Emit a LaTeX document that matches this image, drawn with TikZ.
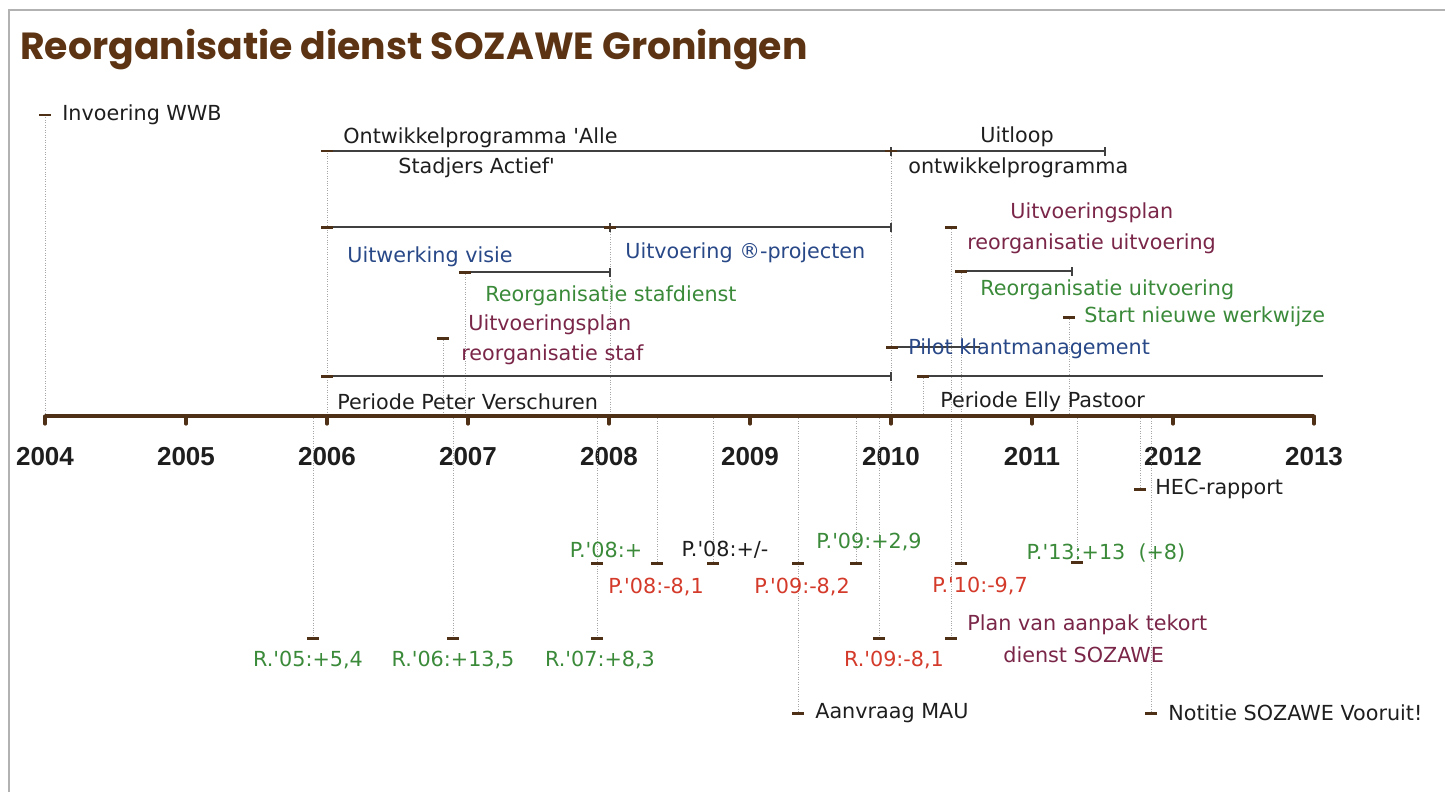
\documentclass[tikz,border=0pt]{standalone}
\usepackage{fontspec}
\setmainfont{DejaVu Sans}
\newfontfamily\yearfont{Liberation Sans}
\newfontfamily\titlefont{Poppins}
\usetikzlibrary{positioning}

\definecolor{axisbrown}{RGB}{78,48,22}
\definecolor{titlebrown}{RGB}{92,52,20}
\definecolor{txtblue}{RGB}{40,72,135}
\definecolor{txtgreen}{RGB}{58,138,58}
\definecolor{txtmaroon}{RGB}{122,38,72}
\definecolor{txtred}{RGB}{212,58,42}
\definecolor{txtblack}{RGB}{30,30,30}

\newcommand{\aq}{\textquotesingle}

\tikzset{
  axisline/.style={line width=2.8pt, draw=axisbrown},
  yeartick/.style={line width=1.8pt, draw=axisbrown, line cap=round},
  bar/.style={line width=0.8pt, draw=black!75},
  endtick/.style={line width=0.8pt, draw=black!75},
  msdash/.style={line width=1.7pt, draw=axisbrown},
  guide/.style={draw=black!35, line width=0.4pt, densely dotted},
  lbl/.style={inner sep=0pt, anchor=west, text=txtblack, font=\fontsize{11.8}{14}\selectfont},
  vlbl/.style={lbl, anchor=center},
  yearlbl/.style={inner sep=0pt, text=txtblack, font=\yearfont\bfseries\fontsize{14.8}{16}\selectfont},
  titlelbl/.style={inner sep=0pt, anchor=west, text=titlebrown, font=\titlefont\bfseries\fontsize{21.5}{26}\selectfont},
}

\begin{document}
\begin{tikzpicture}[x=0.02cm, y=-0.02cm]
\useasboundingbox (0,0) rectangle (1445,792);
\draw[black!30, line width=1.2pt] (9,792) -- (9,10) -- (1445,10);

\node[titlelbl] (title) at (20,50) {Reorganisatie dienst SOZAWE Groningen};

% time axis
\foreach \yr [count=\i from 0] in {2004,...,2013} {
  \coordinate (ax\yr) at (45+141*\i, 416);
  \node[yearlbl] (yl\yr) at (45+141*\i, 457) {\yr};
}

% points above the axis
\coordinate (wwb)      at (45,115);
\coordinate (ontw-s)   at (327,151);
\coordinate (ontw-e)   at (891,151);
\coordinate (uitl-e)   at (1105,151);
\coordinate (visie-s)  at (327,227);
\coordinate (uitv-s)   at (610,227);
\coordinate (uitv-e)   at (891,227);
\coordinate (staf-s)   at (465,272);
\coordinate (staf-e)   at (610,272);
\coordinate (plstaf)   at (443,338);
\coordinate (peter-s)  at (327,376);
\coordinate (peter-e)  at (891,376);
\coordinate (pluitv)   at (951,227);
\coordinate (reuitv-s) at (961,271);
\coordinate (reuitv-e) at (1072,271);
\coordinate (start)    at (1069,317);
\coordinate (pilot-s)  at (892,347);
\coordinate (pilot-e)  at (980,347);
\coordinate (elly-s)   at (923,376);
\coordinate (elly-e)   at (1323,376);

% points below the axis
\coordinate (r05)     at (313,638);
\coordinate (r06)     at (453,638);
\coordinate (r07)     at (597,638);
\coordinate (p08a)    at (597,563);
\coordinate (p08b)    at (657,563);
\coordinate (p08c)    at (713,563);
\coordinate (p09a)    at (798,563);
\coordinate (p09b)    at (856,563);
\coordinate (r09)     at (879,638);
\coordinate (mau)     at (798,713);
\coordinate (p10)     at (961,563);
\coordinate (aanpak)  at (951,638);
\coordinate (p13)     at (1077,562);
\coordinate (hec)     at (1140,489);
\coordinate (notitie) at (1151,713);

% guide lines
\draw[guide] (wwb) -- (wwb |- ax2004);
\draw[guide] (ontw-s) -- (ontw-s |- ax2004);
\draw[guide] (ontw-e) -- (ontw-e |- ax2004);
\draw[guide] (uitv-s) -- (uitv-s |- ax2004);
\draw[guide] (staf-s) -- (staf-s |- ax2004);
\draw[guide] (plstaf) -- (plstaf |- ax2004);
\draw[guide] (elly-s) -- (elly-s |- ax2004);
\draw[guide] (pluitv) -- (aanpak);
\draw[guide] (reuitv-s) -- (p10);
\draw[guide] (start) -- (start |- ax2004);
\foreach \p in {r05,r06,r07,p08b,p08c,mau,p09b,r09,p13,hec,notitie}
  \draw[guide] (\p |- ax2004) -- (\p);

\draw[axisline] (ax2004) -- (ax2013);
\foreach \yr in {2004,...,2013}
  \draw[yeartick] (ax\yr) -- ++(0,8);

% bars
\draw[bar] (ontw-s) -- (ontw-e);
\draw[bar] (ontw-e) -- (uitl-e);
\draw[bar] (visie-s) -- (uitv-s);
\draw[bar] (uitv-s) -- (uitv-e);
\draw[bar] (staf-s) -- (staf-e);
\draw[bar] (peter-s) -- (peter-e);
\draw[bar] (reuitv-s) -- (reuitv-e);
\draw[bar] (pilot-s) -- (pilot-e);
\draw[bar] (elly-s) -- (elly-e);
\foreach \p in {ontw-e,uitl-e,uitv-s,uitv-e,staf-e,peter-e,reuitv-e}
  \draw[endtick] ([yshift=-0.09cm]\p) -- ([yshift=0.09cm]\p);

% milestone dashes
\foreach \p in {wwb,ontw-s,ontw-e,visie-s,uitv-s,staf-s,plstaf,peter-s,pluitv,reuitv-s,start,pilot-s,elly-s,
                r05,r06,r07,p08a,p08b,p08c,p09a,p09b,r09,mau,p10,aanpak,p13,hec,notitie}
  \draw[msdash] ([xshift=-0.12cm]\p) -- ([xshift=0.12cm]\p);

% labels above
\node[lbl] (wwb-l) at (62,115) {Invoering WWB};
\node[lbl] (ontw-l1) at (343,138) {Ontwikkelprogramma \aq Alle};
\node[lbl] (ontw-l2) at (398,168) {Stadjers Actief\aq};
\node[vlbl] (uitl-l1) at (1017,137) {Uitloop};
\node[lbl] (uitl-l2) at (908,168) {ontwikkelprogramma};
\node[lbl, text=txtblue] (visie-l) at (347,257) {Uitwerking visie};
\node[lbl, text=txtblue] (uitv-l) at (625,253) {Uitvoering ®-projecten};
\node[lbl, text=txtgreen] (staf-l) at (485,296) {Reorganisatie stafdienst};
\node[lbl, text=txtmaroon] (plstaf-l1) at (468,325) {Uitvoeringsplan};
\node[lbl, text=txtmaroon] (plstaf-l2) at (461,355) {reorganisatie staf};
\node[lbl] (peter-l) at (337,402) {Periode Peter Verschuren};
\node[lbl, text=txtmaroon] (pluitv-l1) at (1010,213) {Uitvoeringsplan};
\node[lbl, text=txtmaroon] (pluitv-l2) at (967,244) {reorganisatie uitvoering};
\node[lbl, text=txtgreen] (reuitv-l) at (980,290) {Reorganisatie uitvoering};
\node[lbl, text=txtgreen] (start-l) at (1084,317) {Start nieuwe werkwijze};
\node[lbl, text=txtblue] (pilot-l) at (908,349) {Pilot klantmanagement};
\node[lbl] (elly-l) at (940,402) {Periode Elly Pastoor};

% labels below
\node[vlbl, text=txtgreen] (r05-l) at (308,660) {R.\aq05:+5,4};
\node[vlbl, text=txtgreen] (r06-l) at (453,660) {R.\aq06:+13,5};
\node[vlbl, text=txtgreen] (r07-l) at (600,660) {R.\aq07:+8,3};
\node[vlbl, text=txtgreen] (p08a-l) at (606,550) {P.\aq08:+};
\node[vlbl, text=txtred] (p08b-l) at (656,587) {P.\aq08:-8,1};
\node[vlbl] (p08c-l) at (725,550) {P.\aq08:+/-};
\node[vlbl, text=txtred] (p09a-l) at (802,587) {P.\aq09:-8,2};
\node[vlbl, text=txtgreen] (p09b-l) at (869,542) {P.\aq09:+2,9};
\node[vlbl, text=txtred] (r09-l) at (894,660) {R.\aq09:-8,1};
\node[lbl] (mau-l) at (815,713) {Aanvraag MAU};
\node[vlbl, text=txtred] (p10-l) at (980,586) {P.\aq10:-9,7};
\node[lbl, text=txtmaroon] (aanpak-l1) at (967,625) {Plan van aanpak tekort};
\node[lbl, text=txtmaroon] (aanpak-l2) at (1003,655) {dienst SOZAWE};
\node[vlbl, text=txtgreen] (p13-l) at (1106,553) {P.\aq13:+13\ \ (+8)};
\node[lbl] (hec-l) at (1155,489) {HEC-rapport};
\node[lbl] (notitie-l) at (1168,713) {Notitie SOZAWE Vooruit!};

\end{tikzpicture}
\end{document}
